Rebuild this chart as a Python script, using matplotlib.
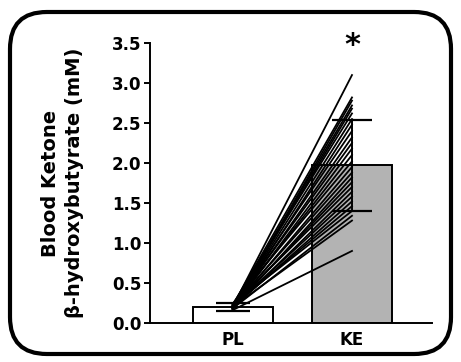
import matplotlib
matplotlib.use("Agg")
import matplotlib.pyplot as plt
from matplotlib.patches import FancyBboxPatch

plt.rcParams['font.family'] = ['DejaVu Sans']
plt.rcParams['font.weight'] = 'bold'

categories = ["PL", "KE"]
bar_means = [0.20, 1.97]
bar_sd = [0.05, 0.57]
pl_values = [0.20, 0.22, 0.18, 0.21, 0.19, 0.23, 0.20, 0.17, 0.22, 0.19, 0.21, 0.18, 0.20,
             0.24, 0.19, 0.21, 0.17, 0.20, 0.22, 0.18, 0.20, 0.19, 0.21, 0.23, 0.18, 0.20, 0.16]
ke_values = [3.10, 2.82, 2.78, 2.72, 2.68, 2.62, 2.55, 2.48, 2.40, 2.32, 2.25, 2.18, 2.10,
             2.02, 1.95, 1.88, 1.82, 1.76, 1.70, 1.64, 1.58, 1.52, 1.46, 1.40, 1.34, 1.28, 0.90]
yticks = [0.0, 0.5, 1.0, 1.5, 2.0, 2.5, 3.0, 3.5]

fig = plt.figure(figsize=(4.61, 3.62), dpi=100)
ax = fig.add_axes([0.326, 0.108, 0.611, 0.773])

xpos = [0, 1]
colors = ["white", "#b3b3b3"]
ax.bar(xpos, bar_means, width=0.67, color=colors, edgecolor="black", linewidth=1.4, zorder=2)
for x, m, s, cs in zip(xpos, bar_means, bar_sd, [12, 14.4]):
    ax.errorbar(x, m, yerr=s, fmt="none", ecolor="black", elinewidth=1.4,
                capsize=cs, capthick=1.6, zorder=4)

for a, b in zip(pl_values, ke_values):
    ax.plot(xpos, [a, b], color="black", linewidth=1.3, zorder=3)

ax.text(1, 3.47, "*", ha="center", va="center", fontsize=22, fontweight="bold")

ax.set_xlim(-0.69, 1.67)
ax.set_ylim(0, 3.5)
ax.set_yticks(yticks)
ax.set_yticklabels([f"{v:.1f}" for v in yticks], fontsize=12, fontweight="bold")
ax.set_xticks(xpos)
ax.set_xticklabels(categories, fontsize=12, fontweight="bold")
ax.tick_params(axis="x", length=0, pad=6)
ax.tick_params(axis="y", length=4.5, width=1.4, pad=2)
for s in ["top", "right"]:
    ax.spines[s].set_visible(False)
for s in ["left", "bottom"]:
    ax.spines[s].set_linewidth(1.4)
ax.set_ylabel("Blood Ketone\nβ-hydroxybutyrate (mM)", fontsize=14, fontweight="bold",
              labelpad=20, linespacing=1.3)

frame = FancyBboxPatch((10 / 461, 8 / 362), 441 / 461, 342 / 362,
                       boxstyle="round,pad=0,rounding_size=0.08",
                       transform=fig.transFigure, fill=False, edgecolor="black",
                       linewidth=3.0, mutation_aspect=461 / 362)
fig.patches.append(frame)

fig.savefig("out.png", dpi=100)
